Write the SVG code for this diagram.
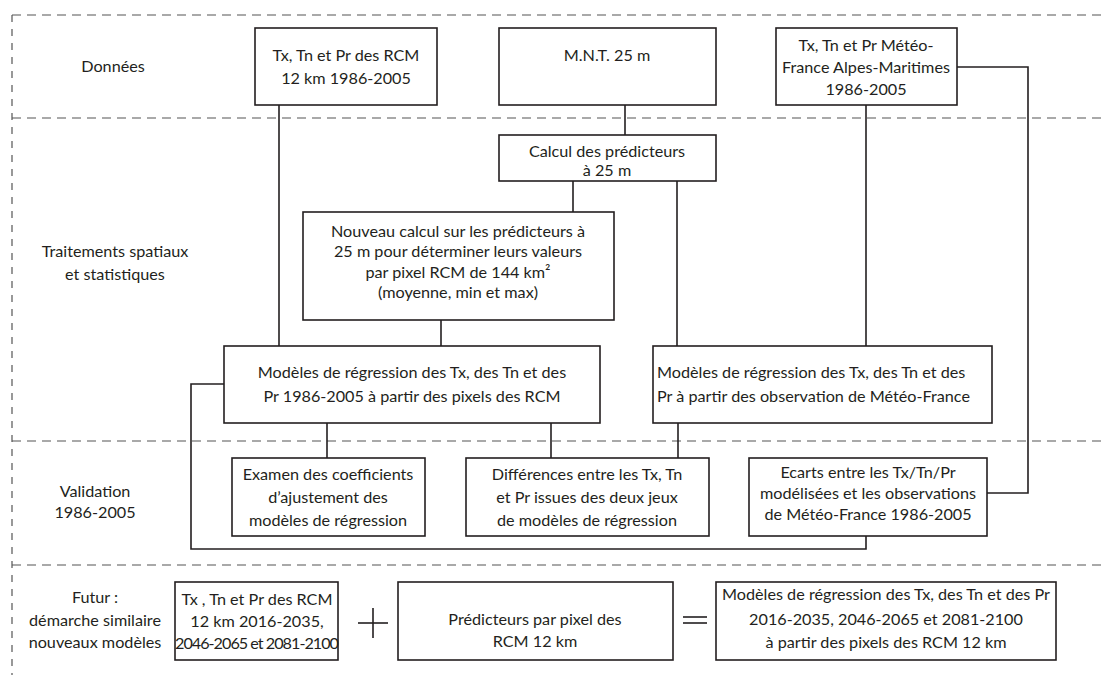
<svg xmlns="http://www.w3.org/2000/svg" width="1101" height="675" viewBox="0 0 1101 675">
<style>
.bg{fill:#fff}
.sep{stroke:#555;stroke-width:1.2;fill:none;stroke-dasharray:9 6}
.vsep{stroke:#555;stroke-width:1.2;fill:none;stroke-dasharray:7 7}
.box{fill:#fff;stroke:#231f20;stroke-width:1.6}
.ln{stroke:#231f20;stroke-width:1.6;fill:none}
text{font-family:Lato,"Liberation Sans",Arial,sans-serif;font-size:16.2px;fill:#231f20}
.c{text-anchor:middle}
</style>
<rect class="bg" x="0" y="0" width="1101" height="675"/>
<g id="frame">
<line class="sep" x1="12" y1="15" x2="1101" y2="15"/>
<line class="sep" x1="12" y1="118" x2="1101" y2="118"/>
<line class="sep" x1="12" y1="441" x2="1101" y2="441"/>
<line class="sep" x1="12" y1="565" x2="1101" y2="565"/>
<line class="vsep" x1="12" y1="15" x2="12" y2="675"/>
</g>
<g id="labels">
<text class="c" x="113" y="72">Données</text>
<text class="c" x="115" y="257">Traitements spatiaux</text>
<text class="c" x="115" y="280">et statistiques</text>
<text class="c" x="95" y="497">Validation</text>
<text class="c" x="95" y="518">1986-2005</text>
<text class="c" x="95" y="603">Futur :</text>
<text class="c" x="95" y="626">démarche similaire</text>
<text class="c" x="95" y="648">nouveaux modèles</text>
</g>
<g id="connectors">
<line class="ln" x1="279" y1="105" x2="279" y2="346"/>
<line class="ln" x1="625" y1="105" x2="625" y2="135"/>
<line class="ln" x1="573" y1="181" x2="573" y2="212"/>
<line class="ln" x1="677" y1="181" x2="677" y2="346"/>
<line class="ln" x1="441" y1="320" x2="441" y2="346"/>
<line class="ln" x1="866" y1="105" x2="866" y2="346"/>
<polyline class="ln" points="957,67 1028,67 1028,493 987,493"/>
<polyline class="ln" points="224,384 191,384 191,549 866,549 866,536"/>
<line class="ln" x1="327" y1="423" x2="327" y2="458"/>
<line class="ln" x1="551" y1="423" x2="551" y2="458"/>
<line class="ln" x1="678" y1="423" x2="678" y2="458"/>
<line class="ln" x1="358" y1="623" x2="388" y2="623"/>
<line class="ln" x1="373" y1="608" x2="373" y2="638"/>
<line class="ln" x1="683" y1="617" x2="707" y2="617"/>
<line class="ln" x1="683" y1="623" x2="707" y2="623"/>
</g>
<g id="n-rcm">
<rect class="box" x="255" y="28" width="182" height="77"/>
<text class="c" x="346" y="61">Tx, Tn et Pr des RCM</text>
<text class="c" x="346" y="84">12 km 1986-2005</text>
</g>
<g id="n-mnt">
<rect class="box" x="499" y="28" width="217" height="77"/>
<text class="c" x="607" y="61">M.N.T. 25 m</text>
</g>
<g id="n-mf">
<rect class="box" x="776" y="28" width="181" height="77"/>
<text class="c" x="866" y="51">Tx, Tn et Pr Météo-</text>
<text class="c" x="866" y="73">France Alpes-Maritimes</text>
<text class="c" x="866" y="95">1986-2005</text>
</g>
<g id="n-calcul">
<rect class="box" x="499" y="135" width="217" height="46"/>
<text class="c" x="607" y="157">Calcul des prédicteurs</text>
<text class="c" x="607" y="176">à 25 m</text>
</g>
<g id="n-nouveau">
<rect class="box" x="303" y="212" width="311" height="108"/>
<text class="c" x="458" y="237">Nouveau calcul sur les prédicteurs à</text>
<text class="c" x="458" y="257">25 m pour déterminer leurs valeurs</text>
<text class="c" x="458" y="278">par pixel RCM de 144 km²</text>
<text class="c" x="458" y="298">(moyenne, min et max)</text>
</g>
<g id="n-reg-rcm">
<rect class="box" x="224" y="346" width="376" height="77"/>
<text class="c" x="412" y="378">Modèles de régression des Tx, des Tn et des</text>
<text class="c" x="412" y="402">Pr 1986-2005 à partir des pixels des RCM</text>
</g>
<g id="n-reg-mf">
<rect class="box" x="653" y="346" width="339" height="77"/>
<text x="657" y="378">Modèles de régression des Tx, des Tn et des</text>
<text x="657" y="402">Pr à partir des observation de Météo-France</text>
</g>
<g id="n-examen">
<rect class="box" x="232" y="458" width="193" height="78"/>
<text class="c" x="328" y="480">Examen des coefficients</text>
<text class="c" x="328" y="503">d’ajustement des</text>
<text class="c" x="328" y="526">modèles de régression</text>
</g>
<g id="n-diff">
<rect class="box" x="466" y="458" width="243" height="78"/>
<text class="c" x="587" y="480">Différences entre les Tx, Tn</text>
<text class="c" x="587" y="503">et Pr issues des deux jeux</text>
<text class="c" x="587" y="526">de modèles de régression</text>
</g>
<g id="n-ecarts">
<rect class="box" x="749" y="458" width="238" height="78"/>
<text class="c" x="868" y="478">Ecarts entre les Tx/Tn/Pr</text>
<text class="c" x="868" y="499">modélisées et les observations</text>
<text class="c" x="868" y="520">de Météo-France 1986-2005</text>
</g>
<g id="n-futur-rcm">
<rect class="box" x="175" y="582" width="163" height="78"/>
<text class="c" x="257" y="605">Tx , Tn et Pr des RCM</text>
<text class="c" x="257" y="627">12 km 2016-2035,</text>
<text class="c" x="257" y="649" textLength="164" lengthAdjust="spacing">2046-2065 et 2081-2100</text>
</g>
<g id="n-futur-pred">
<rect class="box" x="398" y="582" width="275" height="78"/>
<text class="c" x="535" y="625">Prédicteurs par pixel des</text>
<text class="c" x="535" y="647">RCM 12 km</text>
</g>
<g id="n-futur-reg">
<rect class="box" x="716" y="582" width="340" height="78"/>
<text class="c" x="886" y="600">Modèles de régression des Tx, des Tn et des Pr</text>
<text class="c" x="886" y="625">2016-2035, 2046-2065 et 2081-2100</text>
<text class="c" x="886" y="648">à partir des pixels des RCM 12 km</text>
</g>
</svg>
